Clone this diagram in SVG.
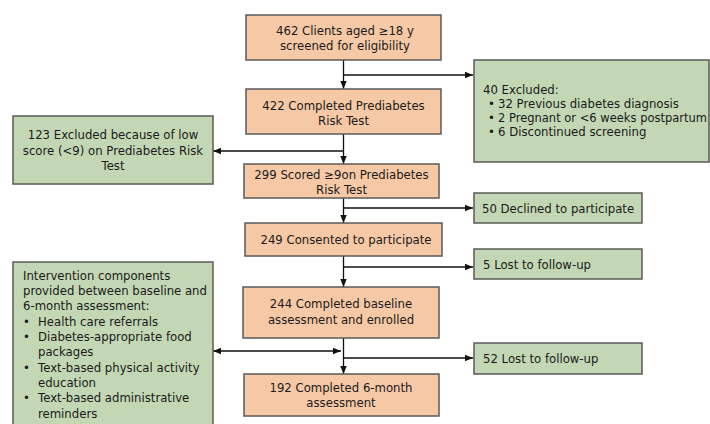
<svg xmlns="http://www.w3.org/2000/svg" width="710" height="424" viewBox="0 0 710 424">
<defs>
<style>
.o{fill:#F6C9A6;stroke:#5a5a5a;stroke-width:1.5}
.g{fill:#C4D7B4;stroke:#5a5a5a;stroke-width:1.5}
text{font-family:"DejaVu Sans",Verdana,sans-serif;font-size:11.7px;fill:#1a1a1a}
.c{text-anchor:middle}
.ln{stroke:#111;stroke-width:1.3;fill:none}
</style>
<marker id="ah" viewBox="0 0 8 8" refX="8" refY="4" markerWidth="8" markerHeight="8" markerUnits="userSpaceOnUse" orient="auto-start-reverse">
<path d="M0,0.8 L8,4 L0,7.2 Z" fill="#111"/>
</marker>
</defs>
<rect width="710" height="424" fill="#fff"/>
<g id="connectors">
<path class="ln" d="M343.5,60 V89" marker-end="url(#ah)"/>
<path class="ln" d="M343.5,75 H473" marker-end="url(#ah)"/>
<path class="ln" d="M343.5,134 V164" marker-end="url(#ah)"/>
<path class="ln" d="M343.5,151 H213" marker-end="url(#ah)"/>
<path class="ln" d="M343.5,198 V223" marker-end="url(#ah)"/>
<path class="ln" d="M343.5,208 H473" marker-end="url(#ah)"/>
<path class="ln" d="M343.5,256 V287" marker-end="url(#ah)"/>
<path class="ln" d="M343.5,267 H473" marker-end="url(#ah)"/>
<path class="ln" d="M343.5,338 V374" marker-end="url(#ah)"/>
<path class="ln" d="M343.5,358 H473" marker-end="url(#ah)"/>
<path class="ln" d="M213,351 H341" marker-start="url(#ah)" marker-end="url(#ah)"/>
</g>
<g id="n462">
<rect class="o" x="246" y="15" width="195" height="45"/>
<text class="c" x="345" y="35">462 Clients aged ≥18 y</text>
<text class="c" x="345" y="50">screened for eligibility</text>
</g>
<g id="n422">
<rect class="o" x="246" y="89" width="195" height="45"/>
<text class="c" x="343.5" y="110">422 Completed Prediabetes</text>
<text class="c" x="343.5" y="125">Risk Test</text>
</g>
<g id="n299">
<rect class="o" x="244" y="164" width="195" height="34"/>
<text class="c" x="341.5" y="179">299 Scored ≥9on Prediabetes</text>
<text class="c" x="341.5" y="194">Risk Test</text>
</g>
<g id="n249">
<rect class="o" x="245" y="223" width="197" height="33"/>
<text class="c" x="346" y="244">249 Consented to participate</text>
</g>
<g id="n244">
<rect class="o" x="243" y="287" width="196" height="51"/>
<text class="c" x="341" y="308">244 Completed baseline</text>
<text class="c" x="341" y="324">assessment and enrolled</text>
</g>
<g id="n192">
<rect class="o" x="244" y="374" width="195" height="42"/>
<text class="c" x="341" y="392">192 Completed 6-month</text>
<text class="c" x="341" y="407">assessment</text>
</g>
<g id="ex40">
<rect class="g" x="474" y="60" width="235" height="102"/>
<text x="483" y="94">40 Excluded:</text>
<text x="488" y="108">•</text><text x="498" y="108">32 Previous diabetes diagnosis</text>
<text x="488" y="122">•</text><text x="498" y="122" textLength="209" lengthAdjust="spacingAndGlyphs">2 Pregnant or &lt;6 weeks postpartum</text>
<text x="488" y="136">•</text><text x="498" y="136">6 Discontinued screening</text>
</g>
<g id="ex123">
<rect class="g" x="13" y="116" width="200" height="68"/>
<text class="c" x="113" y="139">123 Excluded because of low</text>
<text class="c" x="113" y="155">score (&lt;9) on Prediabetes Risk</text>
<text class="c" x="113" y="170">Test</text>
</g>
<g id="ex50">
<rect class="g" x="474" y="193" width="168" height="30"/>
<text x="482" y="213">50 Declined to participate</text>
</g>
<g id="ex5">
<rect class="g" x="474" y="249" width="168" height="30"/>
<text x="483" y="269">5 Lost to follow-up</text>
</g>
<g id="ex52">
<rect class="g" x="474" y="343" width="168" height="31"/>
<text x="483" y="363">52 Lost to follow-up</text>
</g>
<g id="intervention">
<rect class="g" x="13" y="262" width="200" height="170"/>
<text x="23" y="280">Intervention components</text>
<text x="23" y="295">provided between baseline and</text>
<text x="23" y="310">6-month assessment:</text>
<text x="23" y="326">•</text><text x="38" y="326">Health care referrals</text>
<text x="23" y="341">•</text><text x="38" y="341">Diabetes-appropriate food</text>
<text x="38" y="356">packages</text>
<text x="23" y="372">•</text><text x="38" y="372">Text-based physical activity</text>
<text x="38" y="387">education</text>
<text x="23" y="402">•</text><text x="38" y="402">Text-based administrative</text>
<text x="38" y="418">reminders</text>
</g>
</svg>
